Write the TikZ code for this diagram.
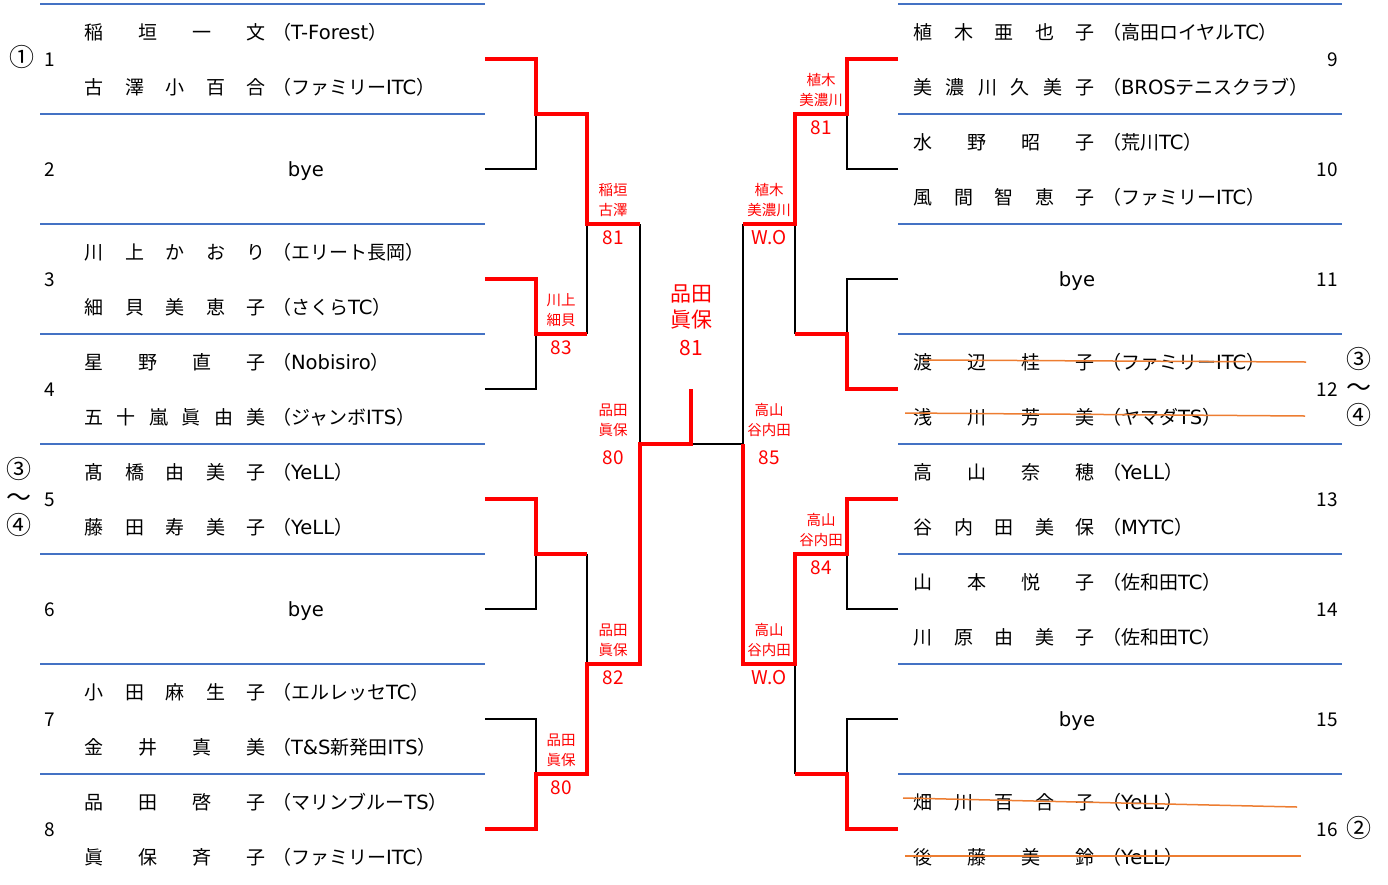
\documentclass[tikz,border=0pt]{standalone}
\usepackage{fontspec}
\setmainfont{Noto Sans CJK JP}
\newfontfamily\latf{DejaVu Sans}[Scale=1.03]
\newcommand\lt[1]{{\latf #1}}
\definecolor{blueline}{HTML}{4472C4}
\definecolor{strike}{HTML}{ED7D31}
\newcommand\distname[4]{% #1 x0, #2 y, #3 id, #4 list
  \def\mycnt{0}%
  \foreach \c in {#4}{\xdef\mycnt{\the\numexpr\mycnt+1\relax}}%
  \foreach \c [count=\i from 0] in {#4}{\node[nm] (#3-\i) at ({#1+\i*162/(\mycnt-1)},#2) {\c};}%
}
\newcommand\result[6]{% #1 id, #2 x, #3 y(line), #4 name1, #5 name2, #6 score
  \node[lab] (#1a) at (#2,#3-36) {#4};
  \node[lab] (#1b) at (#2,#3-16) {#5};
  \node[score] (#1c) at (#2,#3+13) {#6};
}
\begin{document}
\begin{tikzpicture}[x=1pt,y=-1pt,
  base/.style={inner sep=0pt, outer sep=0pt, text height=1.42em, text depth=0pt},
  nm/.style={base, font=\fontsize{19}{19}\selectfont},
  club/.style={nm, anchor=west},
  circ/.style={base, font=\fontsize{25}{25}\selectfont},
  lab/.style={base, text=red, font=\fontsize{14.5}{14.5}\selectfont},
  score/.style={base, text=red, font=\fontsize{19}{19}\selectfont},
  big/.style={base, text=red, font=\fontsize{21}{21}\selectfont},
  sep/.style={draw=blueline, line width=2pt},
  blk/.style={draw=black, line width=2pt},
  win/.style={draw=red, line width=4pt},
  cross/.style={draw=strike, line width=1.5pt}]
\useasboundingbox (0,0) rectangle (1388,884);

% separators
\foreach \k in {0,...,7}{
  \draw[sep] (40,{4+110*\k}) -- (485,{4+110*\k});
  \draw[sep] (898,{4+110*\k}) -- (1342,{4+110*\k});
}

% coordinates
\foreach \k in {1,...,8}{\coordinate (L\k) at (485,{59+110*(\k-1)});}
\foreach \k in {9,...,16}{\coordinate (R\k) at (898,{59+110*(\k-9)});}
\coordinate (A1) at (536,114); \coordinate (A2) at (536,334);
\coordinate (A3) at (536,554); \coordinate (A4) at (536,774);
\coordinate (P1) at (587,114); \coordinate (P2) at (587,334);
\coordinate (P3) at (587,554); \coordinate (P4) at (587,774);
\coordinate (B1) at (587,224); \coordinate (B2) at (587,664);
\coordinate (Q1) at (640,224); \coordinate (Q2) at (640,664);
\coordinate (C1) at (640,444);
\coordinate (F) at (691,444); \coordinate (Ftop) at (691,389);
\coordinate (D1) at (743,444);
\coordinate (A9) at (847,114); \coordinate (A11) at (847,334);
\coordinate (A13) at (847,554); \coordinate (A15) at (847,774);
\coordinate (P9) at (795,114); \coordinate (P11) at (795,334);
\coordinate (P13) at (795,554); \coordinate (P15) at (795,774);
\coordinate (B9) at (795,224); \coordinate (B13) at (795,664);
\coordinate (Q9) at (743,224); \coordinate (Q13) at (743,664);

% black (losing) lines
\draw[blk] (L2) -| (A1);
\draw[blk] (L4) -| (A2);
\draw[blk] (P2) -- (B1);
\draw[blk] (Q1) -- (C1);
\draw[blk] (L6) -| (A3);
\draw[blk] (P3) -- (B2);
\draw[blk] (L7) -| (A4);
\draw[blk] (F) -- (D1);
\draw[blk] (R10) -| (A9);
\draw[blk] (Q9) -- (D1);
\draw[blk] (R11) -| (A11);
\draw[blk] (P11) -- (B9);
\draw[blk] (R14) -| (A13);
\draw[blk] (R15) -| (A15);
\draw[blk] (P15) -- (B13);

% red (winning) lines
\draw[win] (L1) -| (A1) -- (P1) -- (B1) -- (Q1);
\draw[win] (L3) -| (A2) -- (P2);
\draw[win] (L5) -| (A3) -- (P3);
\draw[win] (L8) -| (A4) -- (P4) -- (B2) -- (Q2) -- (C1) -- (F) -- (Ftop);
\draw[win] (R9) -| (A9) -- (P9) -- (B9) -- (Q9);
\draw[win] (R12) -| (A11) -- (P11);
\draw[win] (R13) -| (A13) -- (P13) -- (B13) -- (Q13) -- (D1);
\draw[win] (R16) -| (A15) -- (P15);

% results
\result{r2}{561}{334}{川上}{細貝}{83}
\result{r4}{561}{774}{品田}{眞保}{80}
\result{s1}{613}{224}{稲垣}{古澤}{81}
\result{s2}{613}{664}{品田}{眞保}{82}
\result{t1}{613}{444}{品田}{眞保}{80}
\result{r9}{821}{114}{植木}{美濃川}{81}
\result{r13}{821}{554}{高山}{谷内田}{84}
\result{s9}{769}{224}{植木}{美濃川}{W.O}
\result{s13}{769}{664}{高山}{谷内田}{W.O}
\result{t9}{769}{444}{高山}{谷内田}{85}
\node[big] (ch1) at (691,294) {品田};
\node[big] (ch2) at (691,320) {眞保};
\node[big] (ch3) at (691,348) {81};

% left entries
\distname{94}{32}{n1a}{稲,垣,一,文}
\node[club] (c1a) at (272,32) {（\lt{T-Forest}）};
\distname{94}{87}{n1b}{古,澤,小,百,合}
\node[club] (c1b) at (272,87) {（ファミリー\lt{ITC}）};
\node[nm] (bye2) at (306,169) {\lt{bye}};
\distname{94}{252}{n3a}{川,上,か,お,り}
\node[club] (c3a) at (272,252) {（エリート長岡）};
\distname{94}{307}{n3b}{細,貝,美,恵,子}
\node[club] (c3b) at (272,307) {（さくら\lt{TC}）};
\distname{94}{362}{n4a}{星,野,直,子}
\node[club] (c4a) at (272,362) {（\lt{Nobisiro}）};
\distname{94}{417}{n4b}{五,十,嵐,眞,由,美}
\node[club] (c4b) at (272,417) {（ジャンボ\lt{ITS}）};
\distname{94}{472}{n5a}{髙,橋,由,美,子}
\node[club] (c5a) at (272,472) {（\lt{YeLL}）};
\distname{94}{527}{n5b}{藤,田,寿,美,子}
\node[club] (c5b) at (272,527) {（\lt{YeLL}）};
\node[nm] (bye6) at (306,609) {\lt{bye}};
\distname{94}{692}{n7a}{小,田,麻,生,子}
\node[club] (c7a) at (272,692) {（エルレッセ\lt{TC}）};
\distname{94}{747}{n7b}{金,井,真,美}
\node[club] (c7b) at (272,747) {（\lt{T\&S}新発田\lt{ITS}）};
\distname{94}{802}{n8a}{品,田,啓,子}
\node[club] (c8a) at (272,802) {（マリンブルー\lt{TS}）};
\distname{94}{857}{n8b}{眞,保,斉,子}
\node[club] (c8b) at (272,857) {（ファミリー\lt{ITC}）};

% right entries
\distname{923}{32}{n9a}{植,木,亜,也,子}
\node[club] (c9a) at (1102,32) {（高田ロイヤル\lt{TC}）};
\distname{923}{87}{n9b}{美,濃,川,久,美,子}
\node[club] (c9b) at (1102,87) {（\lt{BROS}テニスクラブ）};
\distname{923}{142}{n10a}{水,野,昭,子}
\node[club] (c10a) at (1102,142) {（荒川\lt{TC}）};
\distname{923}{197}{n10b}{風,間,智,恵,子}
\node[club] (c10b) at (1102,197) {（ファミリー\lt{ITC}）};
\node[nm] (bye11) at (1077,279) {\lt{bye}};
\distname{923}{362}{n12a}{渡,辺,桂,子}
\node[club] (c12a) at (1102,362) {（ファミリー\lt{ITC}）};
\distname{923}{417}{n12b}{浅,川,芳,美}
\node[club] (c12b) at (1102,417) {（ヤマダ\lt{TS}）};
\distname{923}{472}{n13a}{高,山,奈,穂}
\node[club] (c13a) at (1102,472) {（\lt{YeLL}）};
\distname{923}{527}{n13b}{谷,内,田,美,保}
\node[club] (c13b) at (1102,527) {（\lt{MYTC}）};
\distname{923}{582}{n14a}{山,本,悦,子}
\node[club] (c14a) at (1102,582) {（佐和田\lt{TC}）};
\distname{923}{637}{n14b}{川,原,由,美,子}
\node[club] (c14b) at (1102,637) {（佐和田\lt{TC}）};
\node[nm] (bye15) at (1077,719) {\lt{bye}};
\distname{923}{802}{n16a}{畑,川,百,合,子}
\node[club] (c16a) at (1102,802) {（\lt{YeLL}）};
\distname{923}{857}{n16b}{後,藤,美,鈴}
\node[club] (c16b) at (1102,857) {（\lt{YeLL}）};

% entry numbers
\foreach \k in {1,...,8}{\node[nm] (num\k) at (50,{59+110*(\k-1)}) {\k};}
\foreach \k in {9,...,16}{\node[nm, anchor=east] (num\k) at (1338,{59+110*(\k-9)}) {\k};}

% seeds
\node[circ] (seed1) at (22,59) {①};
\node[circ] (seedL3) at (19,471) {③};
\node[circ] (seedLt) at (19,499) {～};
\node[circ] (seedL4) at (19,527) {④};
\node[circ] (seedR3) at (1359,361) {③};
\node[circ] (seedRt) at (1359,389) {～};
\node[circ] (seedR4) at (1359,417) {④};
\node[circ] (seed2) at (1359,830) {②};

% strike-through lines
\coordinate (s1a) at (923,360); \coordinate (s1b) at (1306,362);
\coordinate (s2a) at (905,413); \coordinate (s2b) at (1305,416);
\coordinate (s3a) at (903,798); \coordinate (s3b) at (1297,807);
\coordinate (s4a) at (905,856); \coordinate (s4b) at (1301,856);
\draw[cross] (s1a) -- (s1b);
\draw[cross] (s2a) -- (s2b);
\draw[cross] (s3a) -- (s3b);
\draw[cross] (s4a) -- (s4b);
\end{tikzpicture}
\end{document}
